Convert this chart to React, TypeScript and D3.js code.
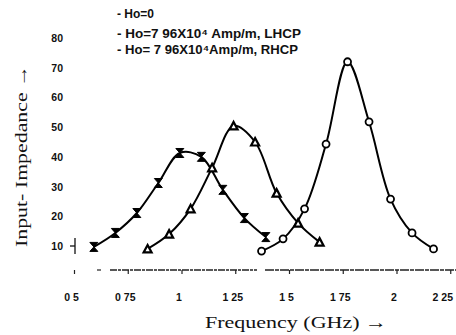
import React from "react";
import * as d3 from "d3";

const freqH0 = [0.59, 0.69, 0.79, 0.89, 0.99, 1.09, 1.19, 1.29, 1.39];
const impH0 = [9.7, 14.4, 21.1, 31.2, 41.3, 40.0, 28.9, 19.4, 13.0];
const freqLHCP = [0.84, 0.94, 1.04, 1.14, 1.24, 1.34, 1.44, 1.54, 1.64];
const impLHCP = [9.0, 14.0, 22.5, 36.3, 50.4, 45.0, 27.8, 17.7, 11.3];
const freqRHCP = [1.37, 1.47, 1.57, 1.67, 1.77, 1.87, 1.97, 2.07, 2.17];
const impRHCP = [8.3, 12.4, 22.5, 44.3, 72.0, 51.8, 25.8, 14.4, 9.0];

const xTickValues = [0.5, 0.75, 1, 1.25, 1.5, 1.75, 2, 2.25];
const xTickLabels = ["0 5", "0 75", "1", "1 25", "1 5", "1 75", "2", "2 25"];
const yTickValues = [10, 20, 30, 40, 50, 60, 70, 80];
const legendLabels = [
  "- Ho=0",
  "- Ho=7 96X10\u2074 Amp/m, LHCP",
  "- Ho= 7 96X10\u2074Amp/m, RHCP",
];

const W = 456;
const H = 335;

const x = d3.scaleLinear().domain([1, 2]).range([182, 397]);
const y = d3.scaleLinear().domain([10, 80]).range([246, 38]);

const line = d3
  .line<[number, number]>()
  .x((d) => x(d[0]))
  .y((d) => y(d[1]))
  .curve(d3.curveCatmullRom.alpha(0.5));

const zip = (a: number[], b: number[]): [number, number][] =>
  a.map((v, i) => [v, b[i]]);

const hourglass = "M-4,-4.5 L4,-4.5 L-4,4.5 L4,4.5 Z";
const tri = "M0,-4 L4,3.5 L-4,3.5 Z";

export default function App() {
  const s0 = zip(freqH0, impH0);
  const s1 = zip(freqLHCP, impLHCP);
  const s2 = zip(freqRHCP, impRHCP);
  const axisY = 270;
  const sans = "'Liberation Sans', Arial, sans-serif";
  const serif = "'Liberation Serif', 'Times New Roman', serif";
  const legendY = [18, 38, 54];
  const legendW = [0, 184, 181];
  return (
    <svg
      width={W}
      height={H}
      style={{ position: "absolute", left: 0, top: 0, background: "#fff" }}
    >
      {/* x axis */}
      <line x1={97} x2={101} y1={axisY} y2={axisY} stroke="#222" strokeWidth={1.2} />
      <line x1={110} x2={257} y1={axisY} y2={axisY} stroke="#222" strokeWidth={1.4} strokeDasharray="7,1,3,1" />
      <line x1={265} x2={456} y1={axisY} y2={axisY} stroke="#222" strokeWidth={1.4} strokeDasharray="9,1,4,1" />
      {xTickValues.map((v, i) => (
        <g key={i}>
          <line x1={x(v)} x2={x(v)} y1={axisY} y2={axisY + 4} stroke="#222" strokeWidth={1.2} />
          <text
            x={i === xTickValues.length - 1 ? x(v) - 8 : x(v) - 3}
            y={301}
            textAnchor="middle"
            fontFamily={sans}
            fontWeight="bold"
            fontSize={10.5}
            fill="#111"
          >
            {xTickLabels[i]}
          </text>
        </g>
      ))}
      {/* y ticks */}
      {yTickValues.map((v) => (
        <text
          key={v}
          x={63}
          y={y(v) + 4}
          textAnchor="end"
          fontFamily={sans}
          fontWeight="bold"
          fontSize={10.5}
          fill="#111"
        >
          {v}
        </text>
      ))}
      <line x1={75} x2={75} y1={238} y2={254} stroke="#111" strokeWidth={1.3} />
      <line x1={70} x2={75} y1={y(10)} y2={y(10)} stroke="#111" strokeWidth={1.3} />
      {/* axis titles */}
      <text
        transform={`translate(27,156) rotate(-90)`}
        textAnchor="middle"
        fontFamily={serif}
        fontSize={17}
        fill="#111"
        textLength={182}
        lengthAdjust="spacingAndGlyphs"
      >
        Input- Impedance →
      </text>
      <text
        x={296}
        y={328}
        textAnchor="middle"
        fontFamily={serif}
        fontSize={17}
        fill="#111"
        textLength={182}
        lengthAdjust="spacingAndGlyphs"
      >
        Frequency (GHz) →
      </text>
      {/* legend */}
      {legendLabels.map((t, i) => (
        <text
          key={i}
          x={117}
          y={legendY[i]}
          fontFamily={sans}
          fontWeight="bold"
          fontSize={12}
          fill="#111"
          textLength={legendW[i] > 0 ? legendW[i] : undefined}
          lengthAdjust={legendW[i] > 0 ? "spacingAndGlyphs" : undefined}
        >
          {t}
        </text>
      ))}
      {/* curves */}
      <path d={line(s0) || ""} fill="none" stroke="#000" strokeWidth={2} />
      <path d={line(s1) || ""} fill="none" stroke="#000" strokeWidth={2} />
      <path d={line(s2) || ""} fill="none" stroke="#000" strokeWidth={2} />
      {s0.map((d, i) => (
        <path key={"a" + i} d={hourglass} transform={`translate(${x(d[0])},${y(d[1])})`} fill="#000" stroke="#000" strokeWidth={1} />
      ))}
      {s1.map((d, i) => (
        <path key={"b" + i} d={tri} transform={`translate(${x(d[0])},${y(d[1])})`} fill="#fff" stroke="#000" strokeWidth={2.2} />
      ))}
      {s2.map((d, i) => (
        <circle key={"c" + i} cx={x(d[0])} cy={y(d[1])} r={3.5} fill="#fff" stroke="#000" strokeWidth={1.8} />
      ))}
    </svg>
  );
}
